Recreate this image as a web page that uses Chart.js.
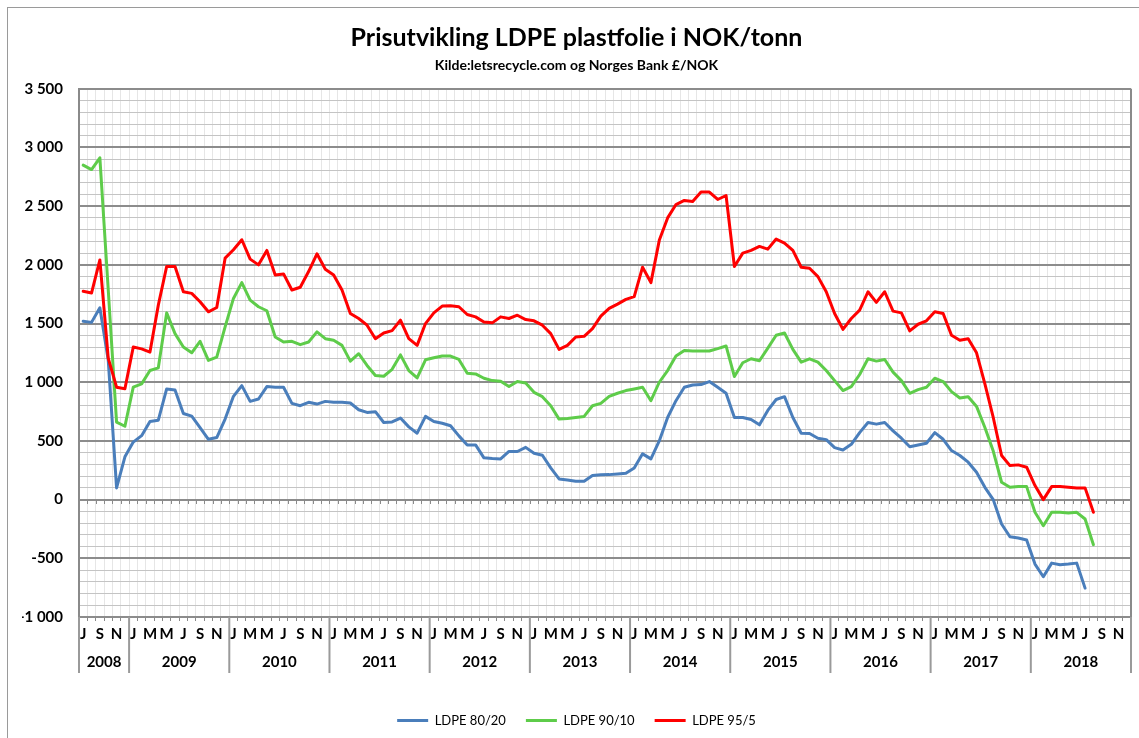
<!DOCTYPE html>
<html><head><meta charset="utf-8">
<script src="https://cdn.jsdelivr.net/npm/chart.js@4.4.1/dist/chart.umd.min.js"></script>
<style>html,body{margin:0;padding:0;background:#fff;}canvas{display:block;}</style>
</head><body>
<canvas id="c" width="1139" height="738"></canvas>
<script>
const TITLE = 'Prisutvikling LDPE plastfolie i NOK/tonn';
const SUBTITLE = 'Kilde:letsrecycle.com og Norges Bank £/NOK';
const years = [2008,2009,2010,2011,2012,2013,2014,2015,2016,2017,2018];
const firstMonth = 7; // July 2008
const monthTickLetters = ['J','','M','','M','','J','','S','','N',''];
const seriesNames = ['LDPE 80/20','LDPE 90/10','LDPE 95/5'];

const ldpe8020 = [1520,1510,1635,1190,100,365,
 490,545,666,677,943,934,734,711,614,514,529,686,
 880,971,837,857,963,957,957,820,800,829,814,837,
 829,829,823,766,743,749,657,662,695,620,566,709,
 666,651,629,543,466,466,356,350,347,410,410,445,
 395,378,270,176,168,157,157,205,211,213,219,225,
 270,390,347,500,700,843,957,977,980,1006,957,906,
 700,700,683,637,760,853,877,700,566,563,523,511,
 443,423,471,571,657,643,657,586,523,451,466,480,
 571,514,418,376,319,233,105,0,-208,-316,-327,-344,
 -549,-657,-541,-555,-549,-541,-754];
const ldpe9010 = [2850,2812,2912,1790,660,625,
 958,986,1100,1123,1591,1414,1300,1251,1349,1186,1214,1471,
 1714,1849,1700,1643,1609,1386,1343,1349,1320,1343,1429,1371,
 1357,1314,1180,1243,1143,1057,1051,1110,1233,1100,1037,1191,
 1209,1223,1223,1194,1077,1071,1034,1014,1009,963,1006,994,
 914,877,800,686,691,700,709,800,820,880,906,929,
 943,957,843,1000,1100,1223,1271,1266,1266,1266,1286,1309,
 1049,1166,1200,1183,1290,1400,1420,1280,1171,1200,1171,1100,
 1014,929,963,1066,1200,1180,1194,1086,1014,906,937,957,
 1034,1006,920,866,877,794,614,414,148,105,111,111,
 -108,-222,-108,-108,-114,-108,-165,-384];
const ldpe955 = [1775,1760,2042,1205,958,944,
 1300,1284,1257,1657,1986,1986,1771,1757,1686,1600,1637,2057,
 2129,2214,2049,2000,2123,1914,1923,1786,1809,1943,2094,1963,
 1914,1786,1586,1543,1486,1371,1420,1440,1529,1371,1314,1500,
 1591,1649,1651,1643,1577,1557,1514,1506,1557,1543,1571,1534,
 1523,1486,1414,1280,1314,1386,1391,1457,1563,1629,1666,1706,
 1729,1980,1849,2209,2400,2514,2549,2540,2620,2620,2557,2591,
 1986,2100,2123,2157,2134,2220,2186,2123,1980,1971,1900,1771,
 1586,1451,1543,1614,1771,1680,1771,1606,1591,1437,1494,1523,
 1600,1586,1400,1357,1371,1251,986,700,376,290,296,276,
 120,0,111,111,105,100,100,-108];

// categories: Jul 2008 .. Dec 2018
const categories = [];
years.forEach(yr => {
  for (let m = (yr === years[0] ? firstMonth : 1); m <= 12; m++) categories.push(yr + '-' + String(m).padStart(2,'0'));
});

const FONT = 'Lato';
function fmt(v){
  const s = Math.abs(v).toString();
  const g = s.replace(/\B(?=(\d{3})+(?!\d))/g, ' ');
  return (v < 0 ? '-' : '') + g;
}

const decorPlugin = {
  id: 'decor',
  beforeDraw(chart){
    const ctx = chart.ctx;
    ctx.save();
    ctx.fillStyle = '#fff';
    ctx.fillRect(0,0,chart.width,chart.height);
    ctx.strokeStyle = '#9a9a9a'; ctx.lineWidth = 1;
    ctx.strokeRect(7.5, 7.5, 1300, 900);
    ctx.restore();
  },
  beforeDatasetsDraw(chart){
    const {ctx, chartArea, scales:{x, y}} = chart;
    const n = categories.length;
    const step = x.getPixelForValue(1) - x.getPixelForValue(0);
    const y0 = Math.round(y.getPixelForValue(0));
    ctx.save();
    ctx.strokeStyle = '#8a8a8a'; ctx.lineWidth = 1;
    for (let i = 0; i <= n; i++){
      const px = Math.round(x.getPixelForValue(0) - step/2 + i*step) + 0.5;
      ctx.beginPath(); ctx.moveTo(px, y0); ctx.lineTo(px, y0 + 4); ctx.stroke();
    }
    ctx.lineWidth = 2; ctx.strokeStyle = '#8a8a8a';
    ctx.beginPath(); ctx.moveTo(chartArea.right, chartArea.top); ctx.lineTo(chartArea.right, chartArea.bottom); ctx.stroke();
    ctx.restore();
  },
  afterDraw(chart){
    const {ctx, chartArea, scales:{x}} = chart;
    const step = x.getPixelForValue(1) - x.getPixelForValue(0);
    ctx.save();
    ctx.strokeStyle = '#9a9a9a'; ctx.lineWidth = 2;
    ctx.fillStyle = '#000';
    ctx.font = 'bold 15px ' + FONT;
    ctx.textAlign = 'center'; ctx.textBaseline = 'middle';
    const bounds = [];
    categories.forEach((c, i) => { if (i === 0 || c.endsWith('-01')) bounds.push(i); });
    bounds.push(categories.length);
    for (let k = 0; k < bounds.length; k++){
      const px = x.getPixelForValue(0) - step/2 + bounds[k]*step;
      ctx.beginPath(); ctx.moveTo(px, chartArea.bottom); ctx.lineTo(px, chartArea.bottom + 56); ctx.stroke();
      if (k < bounds.length - 1){
        const nx = x.getPixelForValue(0) - step/2 + bounds[k+1]*step;
        ctx.fillText(String(years[k]), (px + nx)/2, chartArea.bottom + 45);
      }
    }
    ctx.restore();
  }
};

const colors = ['#4a7ebb', '#5ecc4a', '#ff0000'];
const seriesData = [ldpe8020, ldpe9010, ldpe955];

new Chart(document.getElementById('c'), {
  type: 'line',
  data: {
    labels: categories,
    datasets: seriesData.map((d, i) => ({
      label: seriesNames[i], data: d,
      borderColor: colors[i], backgroundColor: colors[i],
      borderWidth: 3, pointRadius: 0, tension: 0, fill: false,
      borderJoinStyle: 'round', borderCapStyle: 'round',
      order: 2 - i
    }))
  },
  options: {
    responsive: false, animation: false,
    layout: { padding: { left: 22, right: 8, top: 23, bottom: 1 } },
    plugins: {
      title: { display: true, text: TITLE, color: '#000', font: { family: FONT, size: 25, weight: 'bold' }, padding: { top: 0, bottom: 4 } },
      subtitle: { display: true, text: SUBTITLE, color: '#000', font: { family: FONT, size: 14, weight: 'bold' }, padding: { top: 0, bottom: 15 } },
      legend: {
        position: 'bottom',
        labels: {
          boxWidth: 31, boxHeight: 3, padding: 20, color: '#000',
          font: { family: FONT, size: 13 },
          sort: (a, b) => a.datasetIndex - b.datasetIndex,
          generateLabels: (chart) => Chart.defaults.plugins.legend.labels.generateLabels(chart)
            .map(l => Object.assign(l, { fillStyle: l.strokeStyle, lineWidth: 0 }))
        }
      },
      tooltip: { enabled: false }
    },
    scales: {
      x: {
        type: 'category', offset: true,
        grid: { offset: true, color: '#e6e6e6', lineWidth: 1, drawTicks: true, tickLength: 4, tickColor: '#8a8a8a' },
        border: { display: false },
        ticks: {
          autoSkip: false, maxRotation: 0, minRotation: 0, padding: 4, color: '#000',
          font: { family: FONT, size: 15, weight: 'bold' },
          callback: (v, i) => monthTickLetters[parseInt(categories[i].slice(5), 10) - 1]
        },
        afterFit: s => { s.height = 77; }
      },
      y: {
        min: -1000, max: 3500,
        ticks: {
          stepSize: 100, autoSkip: false, padding: 16, color: '#000',
          font: { family: FONT, size: 15, weight: 'bold' },
          callback: v => (v % 500 === 0 ? fmt(v) : '')
        },
        grid: {
          drawTicks: false,
          color: c => (c.tick && c.tick.value % 500 === 0) ? '#8c8c8c' : '#c4c4c4',
          lineWidth: c => (c.tick && c.tick.value % 500 === 0) ? 2 : 1
        },
        border: { display: true, color: '#8a8a8a', width: 2 },
        afterFit: s => { s.width = 57; }
      }
    }
  },
  plugins: [decorPlugin]
});
</script>
</body></html>
